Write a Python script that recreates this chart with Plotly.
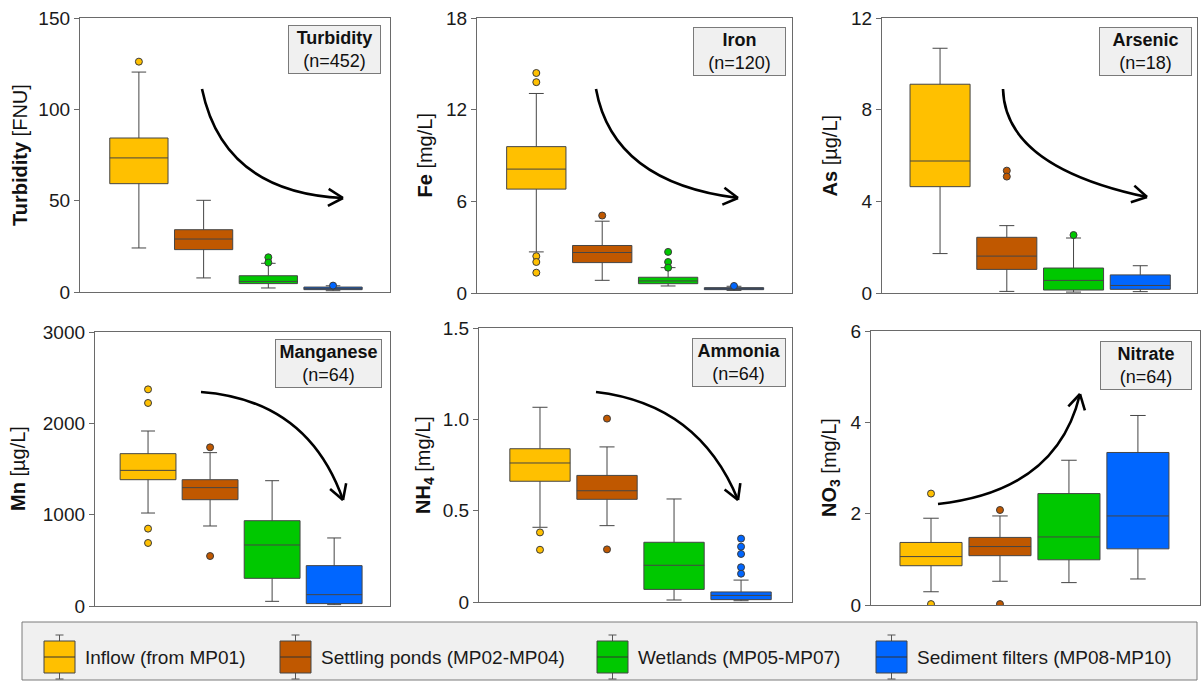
import math
import plotly.graph_objects as go

W, H = 1202, 683

# ---------------- data ----------------
groups = ["Inflow (from MP01)", "Settling ponds (MP02-MP04)",
          "Wetlands (MP05-MP07)", "Sediment filters (MP08-MP10)"]
colors = ["#FFC000", "#C05800", "#00C800", "#0066FF"]

turb_q1 = [59.3, 23.2, 4.6, 1.3]
turb_med = [73.4, 29.0, 5.8, 2.0]
turb_q3 = [84.3, 34.1, 8.9, 2.7]
turb_lo = [24.1, 7.7, 2.2, 0.7]
turb_hi = [120.4, 50.2, 15.7, 3.4]
turb_out = [[126.1], [], [19.0, 16.1], [3.5]]

fe_q1 = [6.80, 1.99, 0.61, 0.22]
fe_med = [8.11, 2.65, 0.79, 0.26]
fe_q3 = [9.58, 3.11, 1.03, 0.35]
fe_lo = [2.69, 0.83, 0.46, 0.17]
fe_hi = [13.06, 4.70, 1.66, 0.44]
fe_out = [[14.4, 13.8, 2.41, 2.03, 1.33], [5.07], [2.69, 2.03, 1.66], [0.46]]

as_q1 = [4.64, 1.03, 0.13, 0.16]
as_med = [5.76, 1.61, 0.55, 0.33]
as_q3 = [9.11, 2.43, 1.09, 0.79]
as_lo = [1.72, 0.07, 0.04, 0.06]
as_hi = [10.68, 2.94, 2.40, 1.19]
as_out = [[], [5.34, 5.08], [2.53], []]

mn_q1 = [1383, 1164, 303, 26]
mn_med = [1485, 1296, 668, 124]
mn_q3 = [1668, 1383, 934, 442]
mn_lo = [1018, 876, 51, 15]
mn_hi = [1916, 1679, 1372, 745]
mn_out = [[2372, 2223, 847, 690], [1737, 547], [], []]

nh4_q1 = [0.661, 0.562, 0.069, 0.013]
nh4_med = [0.761, 0.609, 0.201, 0.036]
nh4_q3 = [0.839, 0.693, 0.327, 0.055]
nh4_lo = [0.409, 0.418, 0.011, 0.007]
nh4_hi = [1.066, 0.849, 0.564, 0.120]
nh4_out = [[0.381, 0.286], [1.004, 0.288], [], [0.347, 0.303, 0.263, 0.190, 0.155]]

no3_q1 = [0.86, 1.08, 0.99, 1.23]
no3_med = [1.06, 1.28, 1.49, 1.95]
no3_q3 = [1.37, 1.48, 2.44, 3.34]
no3_lo = [0.29, 0.52, 0.49, 0.57]
no3_hi = [1.90, 1.95, 3.17, 4.15]
no3_out = [[2.44, 0.02], [2.08, 0.02], [], []]

panel_names = ["Turbidity", "Iron", "Arsenic", "Manganese", "Ammonia", "Nitrate"]
panel_n = ["n=452", "n=120", "n=18", "n=64", "n=64", "n=64"]
panel_ytitles = ["<b>Turbidity</b> [FNU]", "<b>Fe</b> [mg/L]", "<b>As</b> [µg/L]",
                 "<b>Mn</b> [µg/L]", "<b>NH<sub>4</sub></b> [mg/L]", "<b>NO<sub>3</sub></b> [mg/L]"]
panel_ticks = [[0, 50, 100, 150], [0, 6, 12, 18], [0, 4, 8, 12],
               [0, 1000, 2000, 3000], [0, 0.5, 1.0, 1.5], [0, 2, 4, 6]]
panel_ticktext = [["0", "50", "100", "150"], ["0", "6", "12", "18"], ["0", "4", "8", "12"],
                  ["0", "1000", "2000", "3000"], ["0", "0.5", "1.0", "1.5"], ["0", "2", "4", "6"]]

stats = [
    (turb_q1, turb_med, turb_q3, turb_lo, turb_hi, turb_out),
    (fe_q1, fe_med, fe_q3, fe_lo, fe_hi, fe_out),
    (as_q1, as_med, as_q3, as_lo, as_hi, as_out),
    (mn_q1, mn_med, mn_q3, mn_lo, mn_hi, mn_out),
    (nh4_q1, nh4_med, nh4_q3, nh4_lo, nh4_hi, nh4_out),
    (no3_q1, no3_med, no3_q3, no3_lo, no3_hi, no3_out),
]

# ---------------- layout geometry (pixels) ----------------
panel_px = [  # x0, x1, y0(top), y1(bottom)
    (80, 390, 18, 292),
    (477, 792, 18, 293),
    (882, 1197, 18, 293),
    (95, 390, 332, 606),
    (479, 792, 328, 602),
    (871, 1200, 331, 605),
]
panel_xrange = [(-0.91, 3.88), (-0.9, 3.88), (-0.87, 3.85),
                (-0.855, 3.9), (-0.91, 3.76), (-0.87, 3.9)]
ytitle_x_px = [20, 425, 830, 18, 424, 830]
label_box_px = [  # right, top, width
    (381, 25, 93), (786, 27, 93), (1192, 27, 93),
    (382, 339, 107), (786, 338, 94), (1192, 341, 92),
]
arrows_px = [  # start, mid, end
    ((202, 89), (248, 168), (343, 198)),
    ((596, 89), (640, 163), (738, 198)),
    ((1003, 89), (1040, 155), (1147, 197)),
    ((201, 392), (290, 423), (343, 500)),
    ((596, 392), (683, 425), (738, 500)),
    ((938, 504), (1033, 470), (1080, 394)),
]


def fx(x):
    return x / W


def fy(y):
    return 1 - y / H


fig = go.Figure()
layout = dict(width=W, height=H, margin=dict(l=0, r=0, t=0, b=0, pad=0, autoexpand=False),
              template="none", autosize=False,
              paper_bgcolor="white", plot_bgcolor="white", showlegend=False,
              font=dict(family="Arial, Liberation Sans, sans-serif", color="#1a1a1a"))
shapes = []
annotations = []
axcol = "#6a6a6a"

for i in range(6):
    sfx = "" if i == 0 else str(i + 1)
    q1, med, q3, lo, hi, out = stats[i]
    for j in range(4):
        fig.add_trace(go.Box(
            x=[j], q1=[q1[j]], median=[med[j]], q3=[q3[j]],
            lowerfence=[lo[j]], upperfence=[hi[j]],
            width=0.9, whiskerwidth=0.25, fillcolor=colors[j],
            line=dict(color="#454545", width=1), boxpoints=False,
            name=groups[j], showlegend=False, hoverinfo="skip",
            xaxis="x" + sfx, yaxis="y" + sfx))
        if out[j]:
            fig.add_trace(go.Scatter(
                x=[j] * len(out[j]), y=out[j], mode="markers",
                marker=dict(size=7, color=colors[j], line=dict(color="#3a3a3a", width=1)),
                showlegend=False, hoverinfo="skip",
                xaxis="x" + sfx, yaxis="y" + sfx))
    x0, x1, y0, y1 = panel_px[i]
    layout["xaxis" + sfx] = dict(
        domain=[fx(x0), fx(x1)], range=list(panel_xrange[i]), anchor="y" + sfx,
        showticklabels=False, ticks="", showgrid=False, zeroline=False, automargin=False,
        showline=True, mirror=True, linecolor=axcol, linewidth=1.3)
    layout["yaxis" + sfx] = dict(
        domain=[fy(y1), fy(y0)], range=[0, panel_ticks[i][-1]], anchor="x" + sfx,
        tickvals=panel_ticks[i], ticktext=panel_ticktext[i], automargin=False,
        ticks="outside", ticklen=5, tickcolor=axcol, tickwidth=1.3,
        tickfont=dict(size=19, color="#1a1a1a"),
        showgrid=False, zeroline=False, showline=True, mirror=True,
        linecolor=axcol, linewidth=1.3)

    # y-axis title
    annotations.append(dict(
        x=fx(ytitle_x_px[i]), y=fy((y0 + y1) / 2), xref="paper", yref="paper",
        xanchor="center", yanchor="middle", textangle=-90, showarrow=False,
        text=panel_ytitles[i], font=dict(size=20, color="#111")))

    # label box
    r, t, w = label_box_px[i]
    annotations.append(dict(
        x=fx(r), y=fy(t), xref="paper", yref="paper", xanchor="right", yanchor="top",
        text=f"<b>{panel_names[i]}</b><br>({panel_n[i]})", showarrow=False,
        font=dict(size=18, color="#111"), align="center",
        bgcolor="#f0f0f0", bordercolor="#7a7a7a", borderwidth=1, borderpad=2,
        width=w - 6))

    # curved arrow
    (sx, sy), (mx, my), (ex, ey) = arrows_px[i]
    cx = 2 * mx - 0.5 * (sx + ex)
    cy = 2 * my - 0.5 * (sy + ey)
    shapes.append(dict(
        type="path", xref="paper", yref="paper",
        path=f"M {fx(sx)},{fy(sy)} Q {fx(cx)},{fy(cy)} {fx(ex)},{fy(ey)}",
        line=dict(color="black", width=2.6)))
    dx, dy = ex - cx, ey - cy
    L = math.hypot(dx, dy)
    ux, uy = dx / L, dy / L
    hl = 17
    for ang in (math.radians(30), math.radians(-30)):
        rx = (-ux) * math.cos(ang) - (-uy) * math.sin(ang)
        ry = (-ux) * math.sin(ang) + (-uy) * math.cos(ang)
        shapes.append(dict(
            type="line", xref="paper", yref="paper",
            x0=fx(ex), y0=fy(ey), x1=fx(ex + hl * rx), y1=fy(ey + hl * ry),
            line=dict(color="black", width=2.6)))

# ---------------- custom legend ----------------
leg_x0, leg_x1, leg_y0, leg_y1 = 22, 1197, 622, 680
shapes.append(dict(type="rect", xref="paper", yref="paper",
                   x0=fx(leg_x0), x1=fx(leg_x1), y0=fy(leg_y1), y1=fy(leg_y0),
                   fillcolor="#f0f0f0", line=dict(color="#7a7a7a", width=1), layer="below"))
icon_left = [44, 280, 597, 876]
for j in range(4):
    ix = icon_left[j]
    iw = 31
    cxm = ix + iw / 2
    top, bot, mid = 641, 673, 657
    shapes.append(dict(type="line", xref="paper", yref="paper",
                       x0=fx(cxm), x1=fx(cxm), y0=fy(635), y1=fy(top),
                       line=dict(color="#555", width=1)))
    shapes.append(dict(type="line", xref="paper", yref="paper",
                       x0=fx(cxm), x1=fx(cxm), y0=fy(bot), y1=fy(679),
                       line=dict(color="#555", width=1)))
    for yy in (635, 679):
        shapes.append(dict(type="line", xref="paper", yref="paper",
                           x0=fx(cxm - 4), x1=fx(cxm + 4), y0=fy(yy), y1=fy(yy),
                           line=dict(color="#555", width=1)))
    shapes.append(dict(type="rect", xref="paper", yref="paper",
                       x0=fx(ix), x1=fx(ix + iw), y0=fy(bot), y1=fy(top),
                       fillcolor=colors[j], line=dict(color="#454545", width=1)))
    shapes.append(dict(type="line", xref="paper", yref="paper",
                       x0=fx(ix), x1=fx(ix + iw), y0=fy(mid), y1=fy(mid),
                       line=dict(color="#333", width=1)))
    annotations.append(dict(x=fx(ix + iw + 8), y=fy(mid), xref="paper", yref="paper",
                            xanchor="left", yanchor="middle", showarrow=False,
                            text=groups[j], font=dict(size=19, color="#1a1a1a")))

layout["shapes"] = shapes
layout["annotations"] = annotations
fig.update_layout(**layout)
fig.write_html("out.html")
